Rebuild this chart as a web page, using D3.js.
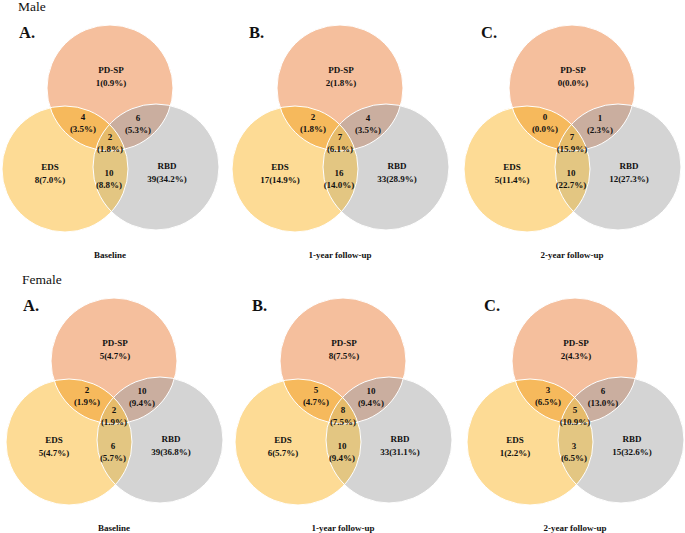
<!DOCTYPE html>
<html>
<head>
<meta charset="utf-8">
<script src="https://cdn.jsdelivr.net/npm/d3@7"></script>
<style>
  html, body { margin: 0; padding: 0; background: #ffffff; }
  svg { display: block; }
  svg text { font-family: "Liberation Serif", "Times New Roman", Times, "DejaVu Serif", serif; }
</style>
</head>
<body>
<script>
// ---------------- data ----------------
const sexes = ["Male", "Female"];
const panelLetters = ["A.", "B.", "C."];
const timepoints = ["Baseline", "1-year follow-up", "2-year follow-up"];
const sets = ["PD-SP", "EDS", "RBD"];
// region order: PD-SP only, EDS only, RBD only, PD-SP∩EDS, PD-SP∩RBD, EDS∩RBD, all three
const regionKeys = ["pd", "eds", "rbd", "pd_eds", "pd_rbd", "eds_rbd", "all"];
const maleCounts = [
  [1, 8, 39, 4, 6, 10, 2],
  [2, 17, 33, 2, 4, 16, 7],
  [0, 5, 12, 0, 1, 10, 7]
];
const malePercents = [
  [0.9, 7.0, 34.2, 3.5, 5.3, 8.8, 1.8],
  [1.8, 14.9, 28.9, 1.8, 3.5, 14.0, 6.1],
  [0.0, 11.4, 27.3, 0.0, 2.3, 22.7, 15.9]
];
const femaleCounts = [
  [5, 5, 39, 2, 10, 6, 2],
  [8, 6, 33, 5, 10, 10, 8],
  [2, 1, 15, 3, 6, 3, 5]
];
const femalePercents = [
  [4.7, 4.7, 36.8, 1.9, 9.4, 5.7, 1.9],
  [7.5, 5.7, 31.1, 4.7, 9.4, 9.4, 7.5],
  [4.3, 2.2, 32.6, 6.5, 13.0, 6.5, 10.9]
];

// ---------------- layout / style ----------------
const W = 685, H = 533;
const R = 63;

const colorScale = d3.scaleOrdinal()
  .domain(["pd", "eds", "rbd", "pd_eds", "pd_rbd", "eds_rbd", "all"])
  .range(["#F5BF9D", "#FDDB95", "#D4D4D4", "#F6B95C", "#CAAE9F", "#E3C682", "#E6BB6A"]);

// PD-SP circle centre of each panel
const panelX = [[110, 340, 572], [114, 343, 575]];
const rowY = d3.scaleOrdinal().domain(sexes).range([88, 361]);

// circle centres relative to PD-SP centre
const circleOffsets = { "PD-SP": [0, 0], "EDS": [-45, 81], "RBD": [46, 79] };

// label anchor (baseline of first line) relative to PD-SP centre
const regionText = {
  pd: [1, -15], eds: [-60, 82], rbd: [57, 81],
  pd_eds: [-27, 32], pd_rbd: [28, 33], eds_rbd: [-1, 88], all: [0, 52]
};

const svg = d3.select("body").append("svg")
  .attr("width", W).attr("height", H)
  .attr("viewBox", `0 0 ${W} ${H}`);
const defs = svg.append("defs");

const rows = [
  { sex: "Male", counts: maleCounts, pct: malePercents, titleX: 18, titleY: 11 },
  { sex: "Female", counts: femaleCounts, pct: femalePercents, titleX: 22, titleY: 284 }
];

rows.forEach((row, ri) => {
  svg.append("text")
    .attr("x", row.titleX).attr("y", row.titleY)
    .attr("font-size", 13.5)
    .attr("fill", "#111")
    .text(row.sex);

  timepoints.forEach((tp, pi) => {
    const cx = panelX[ri][pi], cy = rowY(row.sex);
    const id = `p${ri}${pi}`;
    const g = svg.append("g").attr("transform", `translate(${cx},${cy})`);

    sets.forEach(s => {
      const [dx, dy] = circleOffsets[s];
      defs.append("clipPath").attr("id", `${id}-${s}`)
        .append("circle").attr("cx", dx).attr("cy", dy).attr("r", R);
    });

    const circ = (sel, s) => sel.append("circle")
      .attr("cx", circleOffsets[s][0]).attr("cy", circleOffsets[s][1]).attr("r", R);

    // base circles
    circ(g, "PD-SP").attr("fill", colorScale("pd"));
    circ(g, "EDS").attr("fill", colorScale("eds"));
    circ(g, "RBD").attr("fill", colorScale("rbd"));
    // pairwise overlaps
    circ(g, "EDS").attr("fill", colorScale("pd_eds")).attr("clip-path", `url(#${id}-PD-SP)`);
    circ(g, "RBD").attr("fill", colorScale("pd_rbd")).attr("clip-path", `url(#${id}-PD-SP)`);
    circ(g, "RBD").attr("fill", colorScale("eds_rbd")).attr("clip-path", `url(#${id}-EDS)`);
    // triple overlap
    const gAll = g.append("g").attr("clip-path", `url(#${id}-PD-SP)`);
    circ(gAll, "RBD").attr("fill", colorScale("all")).attr("clip-path", `url(#${id}-EDS)`);
    // outlines
    sets.forEach(s => circ(g, s).attr("fill", "none").attr("stroke", "#ffffff").attr("stroke-width", 1));

    // region labels
    regionKeys.forEach((k, ki) => {
      const [tx, ty] = regionText[k];
      const n = row.counts[pi][ki];
      const p = row.pct[pi][ki].toFixed(1) + "%";
      const t = g.append("text")
        .attr("text-anchor", "middle")
        .attr("font-weight", "bold")
        .attr("font-size", 9).attr("fill", "#111");
      if (ki < 3) {
        t.append("tspan").attr("x", tx).attr("y", ty).text(sets[ki]);
        t.append("tspan").attr("x", tx).attr("y", ty + 13).text(`${n}(${p})`);
      } else {
        t.append("tspan").attr("x", tx).attr("y", ty).text(n);
        t.append("tspan").attr("x", tx).attr("y", ty + 12).text(`(${p})`);
      }
    });

    // panel letter
    g.append("text")
      .attr("x", -91).attr("y", -50)
      .attr("font-weight", "bold")
      .attr("font-size", 16.5).attr("fill", "#111")
      .text(panelLetters[pi]);

    // time point caption
    g.append("text")
      .attr("x", 0).attr("y", 170)
      .attr("text-anchor", "middle")
      .attr("font-weight", "bold")
      .attr("font-size", 9).attr("fill", "#111")
      .text(tp);
  });
});
</script>
</body>
</html>
